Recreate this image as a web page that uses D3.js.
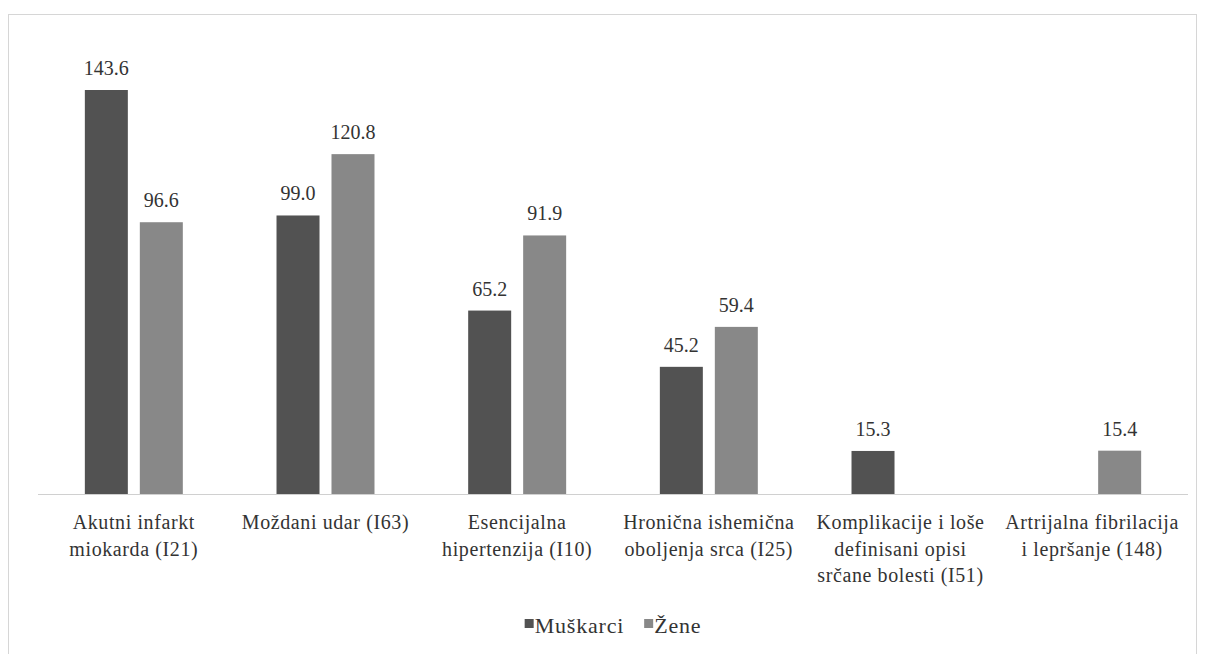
<!DOCTYPE html>
<html>
<head>
<meta charset="utf-8">
<script src="https://cdn.jsdelivr.net/npm/d3@7/dist/d3.min.js"></script>
<style>
  html, body { margin: 0; padding: 0; background: #ffffff; }
  svg { display: block; }
  text { fill: #333333; }
</style>
</head>
<body>
<svg id="chart" width="1206" height="654"></svg>
<script>
// ---- data ----
const categories = [
  "Akutni infarkt miokarda (I21)",
  "Moždani udar (I63)",
  "Esencijalna hipertenzija (I10)",
  "Hronična ishemična oboljenja srca (I25)",
  "Komplikacije i loše definisani opisi srčane bolesti (I51)",
  "Artrijalna fibrilacija i lepršanje (148)"
];
const categoryLabelLines = [
  ["Akutni infarkt", "miokarda (I21)"],
  ["Moždani udar (I63)"],
  ["Esencijalna", "hipertenzija (I10)"],
  ["Hronična ishemična", "oboljenja srca (I25)"],
  ["Komplikacije i loše", "definisani opisi", "srčane bolesti (I51)"],
  ["Artrijalna fibrilacija", "i lepršanje (148)"]
];
const seriesNames = ["Muškarci", "Žene"];
const muskarci = [143.6, 99.0, 65.2, 45.2, 15.3, null];
const zene     = [96.6, 120.8, 91.9, 59.4, null, 15.4];
const seriesColors = ["#525252", "#888888"];

// ---- layout ----
const FONT = "Liberation Serif";
const svg = d3.select("#chart");
const plotLeft = 38, plotRight = 1188, baseY = 494, topY = 90;

// frame
svg.append("rect")
  .attr("x", 8.5).attr("y", 14.5)
  .attr("width", 1188).attr("height", 700)
  .attr("fill", "none").attr("stroke", "#d6d6d6").attr("stroke-width", 1);

const x0 = d3.scaleBand().domain(categories).range([plotLeft, plotRight]).padding(0);
const x1 = d3.scaleBand().domain(seriesNames).range([0, x0.bandwidth()])
  .paddingInner(0.218).paddingOuter(0.852);
const y = d3.scaleLinear().domain([0, d3.max(muskarci.concat(zene))]).range([baseY, topY]);

// baseline axis
svg.append("line")
  .attr("x1", plotLeft).attr("x2", plotRight)
  .attr("y1", baseY + 0.5).attr("y2", baseY + 0.5)
  .attr("stroke", "#d0d0d0").attr("stroke-width", 1);

const seriesData = [muskarci, zene];
const fmt = d3.format(".1f");

seriesNames.forEach((s, si) => {
  const recs = categories.map((c, i) => ({ c, v: seriesData[si][i] })).filter(d => d.v != null);
  const g = svg.append("g");
  g.selectAll("rect").data(recs).join("rect")
    .attr("x", d => x0(d.c) + x1(s))
    .attr("width", x1.bandwidth())
    .attr("y", d => y(d.v))
    .attr("height", d => y(0) - y(d.v))
    .attr("fill", seriesColors[si]);
  g.selectAll("text").data(recs).join("text")
    .attr("x", d => x0(d.c) + x1(s) + x1.bandwidth() / 2)
    .attr("y", d => y(d.v) - 15)
    .attr("text-anchor", "middle")
    .attr("font-family", FONT)
    .attr("font-size", 20)
    .text(d => fmt(d.v));
});

// category labels
const catG = svg.append("g");
categories.forEach((c, i) => {
  const t = catG.append("text")
    .attr("x", x0(c) + x0.bandwidth() / 2)
    .attr("y", 529)
    .attr("text-anchor", "middle")
    .attr("font-family", FONT)
    .attr("font-size", 20)
    .attr("letter-spacing", "0.6px");
  categoryLabelLines[i].forEach((line, li) => {
    t.append("tspan")
      .attr("x", x0(c) + x0.bandwidth() / 2)
      .attr("dy", li === 0 ? 0 : 26.5)
      .text(line);
  });
});

// legend
const legend = svg.append("g");
let lx = 0;
seriesNames.forEach((s, si) => {
  const it = legend.append("g").attr("transform", `translate(${lx},0)`);
  it.append("rect").attr("x", 0).attr("y", -14).attr("width", 9).attr("height", 9)
    .attr("fill", seriesColors[si]);
  const tx = it.append("text").attr("x", 10).attr("y", 0)
    .attr("font-family", FONT)
    .attr("font-size", 22).attr("letter-spacing", "0.8px").text(s);
  const w = 10 + tx.node().getComputedTextLength();
  lx += w + 20;
});
const lw = lx - 20;
legend.attr("transform", `translate(${(plotLeft + plotRight) / 2 - lw / 2}, 633)`);
</script>
</body>
</html>
